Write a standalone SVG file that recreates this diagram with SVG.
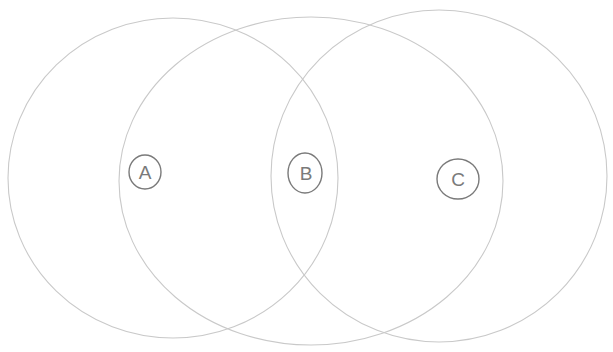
<svg xmlns="http://www.w3.org/2000/svg" width="613" height="352" viewBox="0 0 613 352">
<style>
.big{fill:none;stroke:#c9c9c9;stroke-width:1.1}
.lab{fill:none;stroke:#7a7a7a;stroke-width:1.4}
.t{font-family:"Liberation Sans",Arial,sans-serif;font-size:19px;fill:#7a7a7a;text-anchor:middle}
</style>
<rect width="613" height="352" fill="#ffffff"/>
<g id="setA">
<ellipse class="big" cx="173" cy="178" rx="165" ry="160"/>
<g id="labelA">
<ellipse class="lab" cx="145" cy="172" rx="16" ry="17"/>
<text class="t" x="145" y="179">A</text>
</g>
</g>
<g id="setB">
<ellipse class="big" cx="311" cy="181" rx="192" ry="164"/>
<g id="labelB">
<ellipse class="lab" cx="305" cy="173" rx="17" ry="20"/>
<text class="t" x="306" y="180">B</text>
</g>
</g>
<g id="setC">
<ellipse class="big" cx="439" cy="176" rx="168" ry="166"/>
<g id="labelC">
<ellipse class="lab" cx="458" cy="179" rx="21" ry="20"/>
<text class="t" x="458" y="186">C</text>
</g>
</g>
<g id="connectors"></g>
</svg>
